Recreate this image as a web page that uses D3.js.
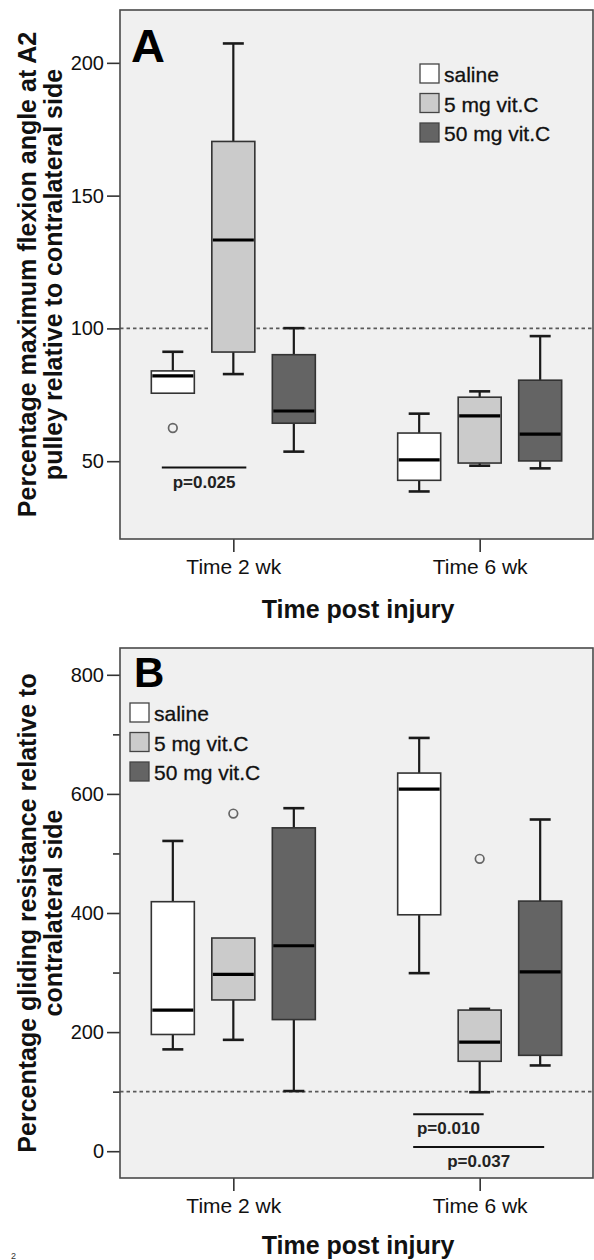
<!DOCTYPE html>
<html>
<head>
<meta charset="utf-8">
<script src="https://cdn.jsdelivr.net/npm/d3@7"></script>
<style>
  body { margin: 0; background: #fff; }
  svg { display: block; font-family: "Liberation Sans", Arial, sans-serif; }
</style>
</head>
<body>
<div id="chart"></div>
<script>
// categories and groups
const times = ["Time 2 wk", "Time 6 wk"];
const groups = ["saline", "5 mg vit.C", "50 mg vit.C"];
const groupFills = ["#ffffff", "#cbcbcb", "#646464"];

// panel A: [low whisker, q1, median, q3, high whisker] per time point
const flexSaline = [[75.6, 75.6, 82.1, 84.0, 91.2], [38.6, 42.8, 50.5, 60.6, 67.9]];
const flex5mg = [[82.8, 91.1, 133.3, 170.4, 207.3], [48.3, 49.3, 67.1, 74.1, 76.3]];
const flex50mg = [[53.6, 64.3, 68.9, 90.1, 100.1], [47.3, 50.1, 60.2, 80.5, 97.1]];
const flexOutliers = [{ time: "Time 2 wk", group: "saline", value: 62.5 }];
const flexTicks = [50, 100, 150, 200];
const flexSig = [{ time: "Time 2 wk", from: "saline", to: "5 mg vit.C", value: 47.6, label: "p=0.025" }];

// panel B
const glideSaline = [[171, 196, 237, 419, 521], [299, 397, 608, 635, 694]];
const glide5mg = [[187, 254, 297, 358, 358], [99, 151, 183, 237, 239]];
const glide50mg = [[101, 221, 345, 543, 576], [144, 161, 301, 420, 557]];
const glideOutliers = [
    { time: "Time 2 wk", group: "5 mg vit.C", value: 567 },
    { time: "Time 6 wk", group: "5 mg vit.C", value: 491 }
];
const glideTicks = [0, 200, 400, 600, 800];
const glideMinorTicks = [100, 300, 500, 700];
const glideSig = [
    { time: "Time 6 wk", from: "saline", to: "5 mg vit.C", value: 62, label: "p=0.010" },
    { time: "Time 6 wk", from: "saline", to: "50 mg vit.C", value: 7, label: "p=0.037" }
];

const W = 594, H = 1260;
const svg = d3.select("#chart").append("svg")
    .attr("width", W).attr("height", H);

svg.append("rect").attr("width", W).attr("height", H).attr("fill", "#fff");

function toRows(saline, mg5, mg50) {
    const rows = [];
    [saline, mg5, mg50].forEach((s, gi) => {
        s.forEach((v, ti) => {
            rows.push({ time: times[ti], group: groups[gi], lo: v[0], q1: v[1], med: v[2], q3: v[3], hi: v[4] });
        });
    });
    return rows;
}

function drawPanel(opt) {
    const left = 120, right = 593;
    const top = opt.top, bottom = opt.bottom;
    const g = svg.append("g");

    const x = d3.scalePoint().domain(times).range([left, right]).padding(0.46);
    const xs = d3.scalePoint().domain(groups).range([-60.5, 60.5]);
    const y = d3.scaleLinear().domain(opt.domain).range([bottom, top]);
    const color = d3.scaleOrdinal().domain(groups).range(groupFills);
    const boxW = 43, capW = 21;

    // fondo y marco
    g.append("rect")
        .attr("x", left).attr("y", top)
        .attr("width", right - left).attr("height", bottom - top)
        .attr("fill", "#f0f0f0");

    // linea de referencia 100%
    g.append("line")
        .attr("x1", left).attr("x2", right)
        .attr("y1", y(100)).attr("y2", y(100))
        .attr("stroke", "#5a5a5a").attr("stroke-width", 1.6)
        .attr("stroke-dasharray", "3.5,3");

    // eje Y
    const yAxis = g.append("g")
        .attr("transform", `translate(${left},0)`)
        .call(d3.axisLeft(y).tickValues(opt.ticks).tickSize(13).tickPadding(3));
    if (opt.minor) {
        g.append("g")
            .attr("transform", `translate(${left},0)`)
            .call(d3.axisLeft(y).tickValues(opt.minor).tickSize(7).tickFormat(""))
            .call(a => a.select(".domain").remove());
    }
    yAxis.select(".domain").remove();
    g.selectAll(".tick line").attr("stroke", "#333").attr("stroke-width", 1.6);
    yAxis.selectAll("text")
        .attr("font-size", 20).attr("fill", "#111")
        .attr("font-family", "Liberation Sans, Arial, sans-serif");

    // eje X
    const xAxis = g.append("g")
        .attr("transform", `translate(0,${bottom})`)
        .call(d3.axisBottom(x).tickSize(13).tickPadding(7));
    xAxis.select(".domain").remove();
    xAxis.selectAll("line").attr("stroke", "#333").attr("stroke-width", 1.6);
    xAxis.selectAll("text")
        .attr("font-size", 21).attr("fill", "#111")
        .attr("font-family", "Liberation Sans, Arial, sans-serif");

    const rows = opt.rows;
    const cx = d => x(d.time) + xs(d.group);

    // bigotes
    const w = g.append("g").attr("stroke", "#1a1a1a").attr("stroke-width", 2.2);
    rows.filter(d => d.hi > d.q3).forEach(d => {
        w.append("line").attr("x1", cx(d)).attr("x2", cx(d)).attr("y1", y(d.q3)).attr("y2", y(d.hi));
        w.append("line").attr("x1", cx(d) - capW / 2).attr("x2", cx(d) + capW / 2).attr("y1", y(d.hi)).attr("y2", y(d.hi)).attr("stroke-width", 2.6);
    });
    rows.filter(d => d.lo < d.q1).forEach(d => {
        w.append("line").attr("x1", cx(d)).attr("x2", cx(d)).attr("y1", y(d.q1)).attr("y2", y(d.lo));
        w.append("line").attr("x1", cx(d) - capW / 2).attr("x2", cx(d) + capW / 2).attr("y1", y(d.lo)).attr("y2", y(d.lo)).attr("stroke-width", 2.6);
    });

    // cajas
    g.selectAll(".box").data(rows).enter()
        .append("rect")
        .attr("x", d => cx(d) - boxW / 2)
        .attr("y", d => y(d.q3))
        .attr("width", boxW)
        .attr("height", d => y(d.q1) - y(d.q3))
        .attr("fill", d => color(d.group))
        .attr("stroke", "#333").attr("stroke-width", 1.6);

    // medianas
    g.selectAll(".med").data(rows).enter()
        .append("line")
        .attr("x1", d => cx(d) - boxW / 2 + 1).attr("x2", d => cx(d) + boxW / 2 - 1)
        .attr("y1", d => y(d.med)).attr("y2", d => y(d.med))
        .attr("stroke", "#000").attr("stroke-width", 3.2);

    // valores atipicos
    g.selectAll(".out").data(opt.outliers).enter()
        .append("circle")
        .attr("cx", d => x(d.time) + xs(d.group))
        .attr("cy", d => y(d.value))
        .attr("r", 4.3)
        .attr("fill", "none").attr("stroke", "#666").attr("stroke-width", 1.7);

    // lineas de significancia
    opt.sig.forEach(s => {
        const x1 = x(s.time) + xs(s.from) - opt.sigPad[0];
        const x2 = x(s.time) + xs(s.to) + opt.sigPad[1];
        g.append("line")
            .attr("x1", x1).attr("x2", x2)
            .attr("y1", y(s.value)).attr("y2", y(s.value))
            .attr("stroke", "#111").attr("stroke-width", 2);
        g.append("text")
            .attr("x", (x1 + x2) / 2).attr("y", y(s.value) + 20)
            .attr("text-anchor", "middle")
            .attr("font-size", 17).attr("font-weight", "bold").attr("fill", "#222")
            .text(s.label);
    });

    // marco
    g.append("rect")
        .attr("x", left).attr("y", top)
        .attr("width", right - left).attr("height", bottom - top)
        .attr("fill", "none").attr("stroke", "#4a4a4a").attr("stroke-width", 1.6);

    // letra del panel
    g.append("text")
        .attr("x", opt.letterPos[0]).attr("y", opt.letterPos[1])
        .attr("font-size", opt.letterSize).attr("font-weight", "bold")
        .text(opt.letter);

    // leyenda
    const lg = g.append("g").attr("transform", `translate(${opt.legendPos[0]},${opt.legendPos[1]})`);
    groups.forEach((name, i) => {
        lg.append("rect")
            .attr("x", 0).attr("y", i * 29.5)
            .attr("width", 19).attr("height", 19)
            .attr("fill", color(name)).attr("stroke", "#444").attr("stroke-width", 1.3);
        lg.append("text")
            .attr("x", 24).attr("y", i * 29.5 + 18)
            .attr("font-size", 21).attr("fill", "#111")
            .attr("stroke", "#111").attr("stroke-width", 0.3)
            .text(name);
    });

    // titulo eje Y
    const cy = (top + bottom) / 2;
    opt.yTitle.forEach((line, i) => {
        g.append("text")
            .attr("transform", `translate(${36 + i * 26},${cy}) rotate(-90)`)
            .attr("text-anchor", "middle")
            .attr("font-size", 25).attr("font-weight", "bold").attr("fill", "#111")
            .text(line);
    });

    // titulo eje X
    g.append("text")
        .attr("x", 358).attr("y", opt.xTitleY)
        .attr("text-anchor", "middle")
        .attr("font-size", 25).attr("font-weight", "bold").attr("fill", "#111")
        .text("Time post injury");
}

drawPanel({
    top: 10, bottom: 539, domain: [20.7, 219.9],
    ticks: flexTicks, minor: null,
    rows: toRows(flexSaline, flex5mg, flex50mg),
    outliers: flexOutliers, sig: flexSig, sigPad: [11, 13],
    letter: "A", letterPos: [131, 62], letterSize: 47,
    legendPos: [420, 64],
    yTitle: ["Percentage maximum flexion angle at A2", "pulley relative to contralateral side"],
    xTitleY: 618
});

drawPanel({
    top: 648, bottom: 1178, domain: [-45, 845],
    ticks: glideTicks, minor: glideMinorTicks,
    rows: toRows(glideSaline, glide5mg, glide50mg),
    outliers: glideOutliers, sig: glideSig, sigPad: [6, 4],
    letter: "B", letterPos: [134, 687], letterSize: 42,
    legendPos: [130, 703],
    yTitle: ["Percentage gliding resistance relative to", "contralateral side"],
    xTitleY: 1254
});

// pequeño resto de texto en la esquina
svg.append("text")
    .attr("x", 11).attr("y", 1259)
    .attr("font-size", 9).attr("fill", "#333")
    .text("2");
</script>
</body>
</html>
